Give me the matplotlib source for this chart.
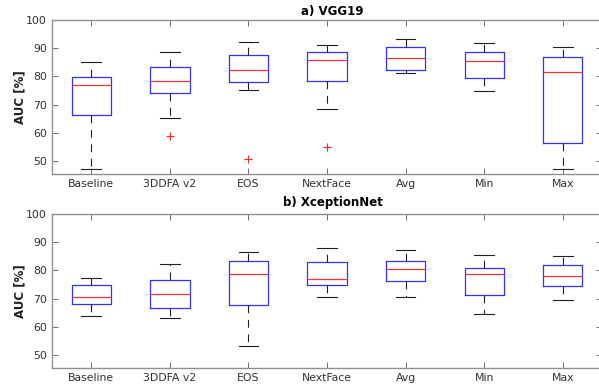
import matplotlib
matplotlib.use("Agg")
import matplotlib.pyplot as plt

methods = ["Baseline", "3DDFA v2", "EOS", "NextFace", "Avg", "Min", "Max"]

# a) VGG19: lower whisker, Q1, median, Q3, upper whisker, outliers
vgg_whislo = [47.0, 65.4, 75.3, 68.3, 81.2, 74.8, 47.0]
vgg_q1 = [66.3, 74.2, 77.9, 78.3, 82.2, 79.4, 56.3]
vgg_med = [76.8, 78.5, 82.4, 85.8, 86.6, 85.3, 81.6]
vgg_q3 = [79.7, 83.3, 87.5, 88.8, 90.4, 88.5, 86.8]
vgg_whishi = [85.1, 88.7, 92.1, 91.0, 93.4, 92.0, 90.5]
vgg_fliers = [[], [59.0], [50.7], [55.0], [], [], []]

# b) XceptionNet
xcp_whislo = [63.7, 63.2, 53.3, 70.5, 70.5, 64.4, 69.6]
xcp_q1 = [68.1, 66.7, 67.6, 74.9, 76.1, 71.3, 74.5]
xcp_med = [70.7, 71.7, 78.8, 77.0, 80.6, 78.7, 78.0]
xcp_q3 = [75.0, 76.7, 83.5, 83.1, 83.5, 80.8, 81.8]
xcp_whishi = [77.3, 82.1, 86.7, 88.0, 87.4, 85.5, 85.1]
xcp_fliers = [[], [], [], [], [], [], []]

yticks = [50, 60, 70, 80, 90, 100]


def make_stats(whislo, q1, med, q3, whishi, fliers):
    return [
        dict(label=m, whislo=a, q1=b, med=c, q3=d, whishi=e, fliers=f)
        for m, a, b, c, d, e, f in zip(methods, whislo, q1, med, q3, whishi, fliers)
    ]


def draw_panel(ax, stats, title, title_pad):
    ax.bxp(
        stats,
        widths=0.5,
        showfliers=True,
        boxprops=dict(color="#3030ff", linewidth=0.9),
        medianprops=dict(color="#ff3030", linewidth=0.9),
        whiskerprops=dict(color="#202020", linewidth=0.8, linestyle=(0, (7, 6))),
        capprops=dict(color="#202020", linewidth=0.8),
        flierprops=dict(marker="+", markeredgecolor="#ff2020", markersize=6,
                        markeredgewidth=0.8, linestyle="none"),
    )
    ax.set_xlim(0.5, 7.5)
    ax.set_ylim(45.4, 100)
    ax.set_yticks(yticks)
    ax.set_ylabel("AUC [%]", fontsize=8.5, fontweight="bold", color="#202020", labelpad=0)
    ax.set_title(title, fontsize=8.5, fontweight="bold", x=0.51, pad=title_pad)
    ax.tick_params(axis="both", direction="in", length=4, width=0.7,
                   color="#707070", labelsize=7.8, labelcolor="#303030",
                   top=True, right=True, pad=3.5)
    for s in ax.spines.values():
        s.set_color("#909090")
        s.set_linewidth(1.0)
    ax.spines["right"].set_visible(False)


fig = plt.figure(figsize=(5.99, 3.89), dpi=100)
ax1 = fig.add_axes([52 / 599, 1 - 174 / 389, 550 / 599, 154 / 389])
ax2 = fig.add_axes([52 / 599, 1 - 368 / 389, 550 / 599, 154 / 389])

draw_panel(ax1, make_stats(vgg_whislo, vgg_q1, vgg_med, vgg_q3, vgg_whishi, vgg_fliers), "a) VGG19", 3.5)
draw_panel(ax2, make_stats(xcp_whislo, xcp_q1, xcp_med, xcp_q3, xcp_whishi, xcp_fliers), "b) XceptionNet", 6)

fig.savefig("out.png", dpi=100)
